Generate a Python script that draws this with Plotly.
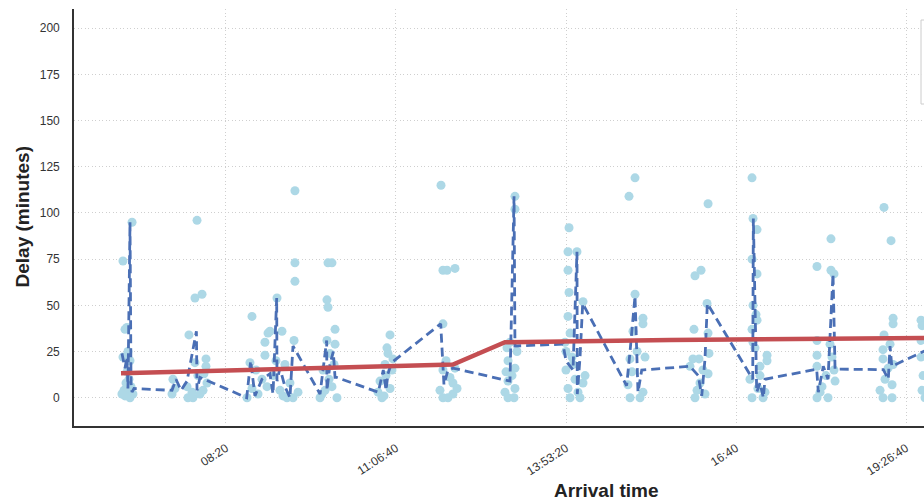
import plotly.graph_objects as go

# Arrival time in minutes after midnight, delay in minutes (observed flights)
arrival_min = [
    407.9, 399.0, 402.9, 401.0, 399.0, 403.9, 405.9, 402.0, 406.9, 400.0, 403.9, 408.8, 401.0, 405.9, 398.0, 404.9, 402.9,
    448.0, 450.0, 447.1, 463.7, 469.6, 476.5, 471.6, 469.6, 480.4, 480.4, 462.7, 467.6, 477.5, 481.4, 461.8, 472.5, 474.5, 466.7, 478.4,
    525.5, 541.2, 538.2, 538.2, 523.5, 520.6, 525.5, 543.1, 554.9, 550.0, 557.8, 567.6, 567.6, 567.6, 566.7, 565.7, 559.8, 552.9,
    540.2, 531.4, 535.3, 546.1, 549.0, 562.7, 529.4, 555.9, 570.6,
    600.0, 603.9, 599.0, 600.0, 606.9, 606.9, 599.0, 592.2, 597.1, 603.9, 608.8, 595.1, 601.0, 605.9, 594.1, 601.9,
    660.8, 657.8, 658.8, 655.9, 651.0, 652.9, 660.8, 662.7, 649.0, 656.9, 654.9, 663.7,
    710.8, 712.7, 716.7, 724.5, 712.7, 712.7, 722.5, 722.5, 712.7, 717.6, 724.5, 709.8, 719.6, 715.7, 726.5,
    783.3, 783.3, 776.5, 783.3, 776.5, 783.3, 776.5, 782.4, 773.5, 780.4, 785.3, 775.5, 778.4, 774.5,
    836.3, 835.3, 844.1, 835.3, 836.3, 835.3, 837.3, 850.0, 833.3, 839.2, 833.3, 842.2, 835.3, 845.1, 837.3, 847.1, 850.0, 840.2, 832.4, 852.0,
    901.0, 895.1, 901.0, 908.8, 908.8, 899.0, 896.1, 894.1, 908.8, 896.1, 905.9, 903.0, 898.0, 910.8,
    959.8, 965.7, 972.6, 958.8, 957.8, 963.7, 972.6, 959.8, 969.6, 971.6, 954.9, 964.7, 967.6, 961.8, 973.5, 972.6,
    1015.7, 1016.7, 1020.6, 1015.7, 1020.6, 1016.7, 1020.6, 1015.7, 1030.4, 1030.4, 1023.5, 1015.7, 1026.5, 1021.5, 1013.7, 1018.6, 1016.7, 1023.5, 1028.4, 1019.6,
    1079.4, 1093.1, 1093.1, 1096.1, 1079.4, 1079.4, 1079.4, 1092.2, 1079.4, 1090.2, 1096.1, 1084.3, 1088.2, 1094.1, 1082.4, 1097.1,
    1145.1, 1152.0, 1154.0, 1154.0, 1145.1, 1144.1, 1151.0, 1144.1, 1144.1, 1153.0, 1153.0, 1146.1, 1149.1, 1141.2, 1154.0,
    1181.4, 1182.4, 1181.4, 1183.4, 1182.4, 1185.3, 1181.4,
]
delay_min = [
    95, 74, 38, 37, 22, 25, 20, 8, 6, 4, 3, 2, 1, 0, 2, 10, 14,
    10, 5, 2, 34, 54, 56, 96, 19, 21, 17, 0, 0, 4, 8, 6, 12, 2, 3, 13,
    44, 35, 30, 23, 19, 0, 5, 36, 36, 54, 18, 112, 73, 63, 31, 0, 0, 4,
    6, 2, 10, 12, 20, 8, 15, 1, 3,
    73, 73, 53, 49, 37, 29, 31, 0, 4, 6, 0, 15, 10, 18, 2, 24,
    34, 27, 24, 18, 9, 0, 5, 15, 3, 12, 1, 21,
    115, 69, 69, 70, 40, 15, 8, 2, 0, 0, 16, 4, 11, 20, 5,
    109, 102, 20, 16, 9, 5, 0, 0, 3, 12, 25, 27, 30, 14,
    92, 79, 79, 69, 57, 44, 35, 52, 25, 22, 15, 10, 5, 3, 0, 0, 8, 18, 30, 12,
    119, 109, 56, 43, 40, 36, 21, 7, 3, 0, 0, 25, 14, 22,
    66, 69, 105, 37, 21, 21, 13, 0, 2, 51, 17, 8, 15, 4, 24, 35,
    119, 97, 91, 75, 67, 50, 42, 37, 23, 20, 17, 0, 0, 5, 10, 27, 30, 12, 3, 45,
    71, 86, 69, 67, 31, 23, 17, 29, 0, 0, 15, 6, 12, 22, 3, 9,
    103, 85, 43, 40, 34, 26, 29, 21, 0, 0, 7, 10, 16, 4, 18,
    42, 39, 31, 12, 4, 0, 22,
]

# Dashed line (flight-by-flight delay path)
path_time = [
    398.0, 401.0, 402.9, 403.9, 405.9, 406.9, 407.9, 409.8,
    447.1, 451.0, 455.9, 461.8, 471.0, 471.6, 474.5,
    520.3, 524.2, 528.4, 535.3, 543.1, 546.1, 549.7, 550.0, 552.9, 557.8, 562.7, 565.7,
    592.2, 598.7, 599.0, 601.9, 605.2, 606.9, 608.5,
    649.3, 654.2, 656.9, 658.8, 662.4,
    710.5, 713.7, 717.6, 722.5,
    778.4, 782.4, 783.3, 830.4,
    833.3, 840.2, 844.1, 844.4, 847.1, 849.7,
    892.8, 896.1, 901.0, 903.9, 907.6,
    954.9, 963.0, 966.4, 969.6, 971.9,
    1011.8, 1016.4, 1017.0, 1020.3, 1023.5, 1026.8, 1028.4,
    1079.1, 1080.7, 1085.6, 1090.2, 1095.1, 1097.1,
    1144.4, 1149.3, 1151.0, 1152.7,
    1184.3, 1195.1,
]
path_delay = [
    24, 16, 22, 5, 95, 8, 3, 5,
    4, 10, 4, 9, 36, 4, 11,
    0, 20, 1, 10, 13, 2, 54, 9, 16, 6, 0, 28,
    2, 31, 4, 18, 25, 11, 11,
    3, 15, 4, 13, 19,
    40, 7, 15, 16,
    9, 109, 28, 29,
    20, 15, 79, 2, 22, 51,
    6.5, 25, 55, 3, 15,
    17, 12, 1, 21, 51,
    14, 10, 97, 3, 8, 0, 10,
    15.5, 3, 17, 10, 67, 15.5,
    15.2, 10, 28, 17,
    25.5, 28,
]

# Trend (rolling average) line
trend_time = [397.1, 651.0, 722.5, 773.5, 935.7, 1184.3, 1200.0]
trend_delay = [13.2, 16.9, 18.0, 30.0, 31.2, 32.3, 32.4]

tick_vals = [500, 666.667, 833.333, 1000, 1166.667]
tick_text = ["08:20", "11:06:40", "13:53:20", "16:40", "19:26:40"]
y_ticks = [0, 25, 50, 75, 100, 125, 150, 175, 200]

fig = go.Figure()
fig.add_trace(go.Scatter(
    x=arrival_min, y=delay_min, mode="markers",
    marker=dict(color="#ADD8E6", size=9, line=dict(width=0)),
    name="Flights", showlegend=False,
))
fig.add_trace(go.Scatter(
    x=path_time, y=path_delay, mode="lines",
    line=dict(color="#4A6FB5", width=2.8, dash="9px,5px"),
    name="Delay", showlegend=False,
))
fig.add_trace(go.Scatter(
    x=trend_time, y=trend_delay, mode="lines",
    line=dict(color="#C44E52", width=4.5),
    name="Trend", showlegend=False,
))

font_family = "Liberation Sans, Arial, sans-serif"
L, T, B = 74, 9, 76
W, H = 924, 502
pw, ph = W - L, H - T - B

fig.update_layout(
    width=W, height=H,
    margin=dict(l=L, r=0, t=T, b=B, pad=0),
    paper_bgcolor="white", plot_bgcolor="white",
    font=dict(family=font_family, color="#333333"),
    showlegend=False,
    xaxis=dict(
        range=[351.0, 1184.3],
        tickvals=tick_vals, ticktext=tick_text, tickangle=-33,
        tickfont=dict(size=12, color="#333333"),
        showgrid=True, gridcolor="#cfcfcf", griddash="1px,2.5px", gridwidth=1,
        showline=True, linecolor="#333333", linewidth=1.6, mirror=False,
        zeroline=False, ticks="", ticklabelstandoff=9, automargin=False,
    ),
    yaxis=dict(
        range=[-15.3, 210.4],
        tickvals=y_ticks,
        tickfont=dict(size=12, color="#333333"),
        showgrid=True, gridcolor="#cfcfcf", griddash="1px,2.5px", gridwidth=1,
        showline=True, linecolor="#333333", linewidth=1.6, mirror=False,
        zeroline=False, ticks="", ticklabelstandoff=10, automargin=False,
    ),
    annotations=[
        dict(text="<b>Delay (minutes)</b>", textangle=-90, xref="paper", yref="paper",
             x=(22 - L) / pw, y=0.5, showarrow=False, xanchor="center", yanchor="middle",
             font=dict(size=19, color="#222222", family=font_family)),
        dict(text="<b>Arrival time</b>", xref="paper", yref="paper",
             x=(606 - L) / pw, y=-(490 - (T + ph)) / ph, showarrow=False,
             xanchor="center", yanchor="middle",
             font=dict(size=19, color="#222222", family=font_family)),
    ],
    shapes=[
        dict(type="rect", xref="paper", yref="paper",
             x0=(921 - L) / pw, x1=1.08, y0=(T + ph - 104) / ph, y1=(T + ph - 20) / ph,
             line=dict(color="#cccccc", width=1), fillcolor="rgba(255,255,255,0.8)", layer="above"),
    ],
)

fig.write_html("out.html")
